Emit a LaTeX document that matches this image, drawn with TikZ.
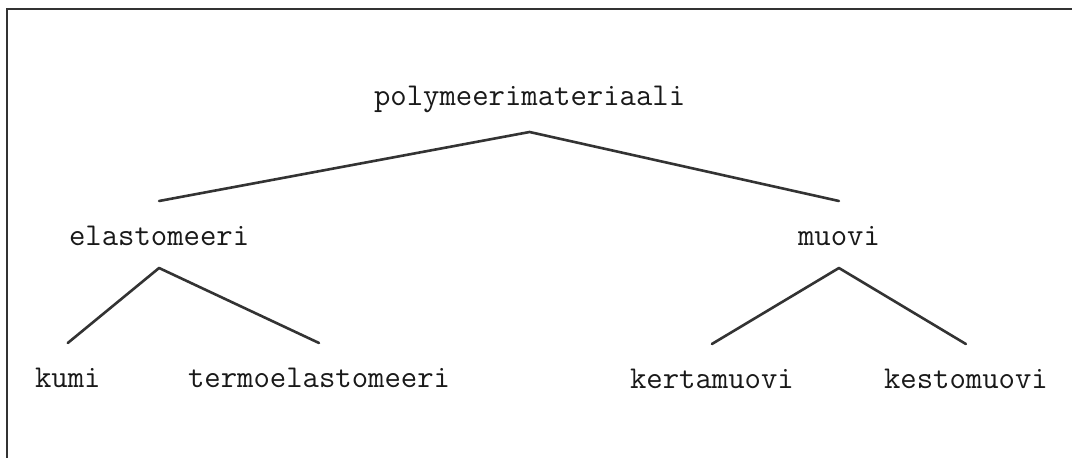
\documentclass[tikz,border=0pt]{standalone}
\usepackage{fontspec}
\begin{document}
\begin{tikzpicture}[x=1pt,y=-1pt,
  lbl/.style={inner sep=0pt, outer sep=0pt, text height=44pt, text depth=23pt,
    anchor=base west, text=black!90, font=\ttfamily\fontsize{31.8}{34}\selectfont},
  conn/.style={draw=black!80, line width=2.6pt, line cap=round, line join=round},
  frame/.style={draw=black!80, line width=2.2pt}]
\useasboundingbox (0,0) rectangle (1072,458);
\clip (0,0) rectangle (1072,458);
\fill[white] (0,0) rectangle (1072,458);
\draw[frame] (7.3,9.3) rectangle (1090,480);

\node[lbl] (poly)   at (374,105) {polymeerimateriaali};
\node[lbl] (elast)  at (69,245)  {elastomeeri};
\node[lbl] (muovi)  at (798,245) {muovi};
\node[lbl] (kumi)   at (35,387)  {kumi};
\node[lbl] (termo)  at (188,387) {termoelastomeeri};
\node[lbl] (kerta)  at (630,388) {kertamuovi};
\node[lbl] (kesto)  at (884,388) {kestomuovi};

\draw[conn] (elast.north) -- ([yshift=-4pt]poly.south) -- (muovi.north);
\draw[conn] (kumi.north) -- (elast.south) -- (termo.north);
\draw[conn] (kerta.north) -- (muovi.south) -- (kesto.north);
\end{tikzpicture}
\end{document}
